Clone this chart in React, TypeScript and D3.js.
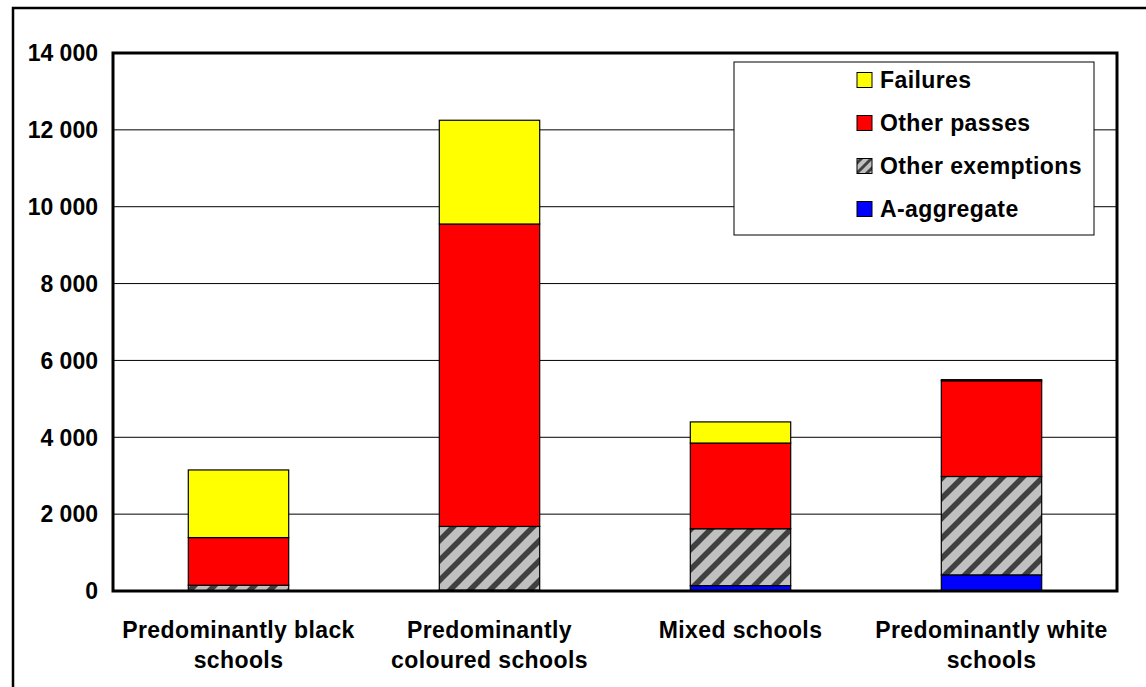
import React from "react";
import * as d3 from "d3";

// School categories (two-line labels)
const categories = [
  "Predominantly black schools",
  "Predominantly coloured schools",
  "Mixed schools",
  "Predominantly white schools",
];
const categoryLines = [
  ["Predominantly black", "schools"],
  ["Predominantly", "coloured schools"],
  ["Mixed schools"],
  ["Predominantly white", "schools"],
];

// Series values, stacked bottom to top
const aAggregate = [10, 20, 140, 420];
const otherExemptions = [140, 1660, 1480, 2560];
const otherPasses = [1240, 7870, 2230, 2490];
const failures = [1760, 2700, 550, 30];

const seriesNames = ["A-aggregate", "Other exemptions", "Other passes", "Failures"];
const yTicks = [0, 2000, 4000, 6000, 8000, 10000, 12000, 14000];

const W = 1146;
const H = 687;
const plot = { left: 113, right: 1117, top: 53, bottom: 591 };
const FONT = "'Liberation Sans', Arial, sans-serif";
const FS = 23;
const LS = 0.4;

const fills: Record<string, string> = {
  "A-aggregate": "#0000ff",
  "Other exemptions": "url(#hatch)",
  "Other passes": "#ff0000",
  Failures: "#ffff00",
};

export default function App() {
  const rows = categories.map((c, i) => ({
    category: c,
    "A-aggregate": aAggregate[i],
    "Other exemptions": otherExemptions[i],
    "Other passes": otherPasses[i],
    Failures: failures[i],
  }));
  const stack = d3.stack<any>().keys(seriesNames)(rows);

  const x = d3.scaleBand<string>().domain(categories).range([plot.left, plot.right]).padding(0);
  const y = d3.scaleLinear().domain([0, 14000]).range([plot.bottom, plot.top]);
  const barW = x.bandwidth() * 0.4;

  const fmt = d3
    .formatLocale({ thousands: " ", grouping: [3], decimal: ".", currency: ["", ""] })
    .format(",");

  const legendOrder = ["Failures", "Other passes", "Other exemptions", "A-aggregate"];
  const legend = { x: 734, y: 62, w: 360, h: 173 };

  return (
    <svg
      width={W}
      height={H}
      style={{ position: "absolute", left: 0, top: 0, background: "#fff" }}
      fontFamily={FONT}
    >
      <defs>
        <pattern id="hatch" patternUnits="userSpaceOnUse" width={20} height={20}>
          <rect width={20} height={20} fill="#c0c0c0" />
          <path
            d="M-5,5 L5,-5 M0,20 L20,0 M15,25 L25,15"
            stroke="#404040"
            strokeWidth={5.5}
          />
        </pattern>
        <pattern id="hatchSmall" patternUnits="userSpaceOnUse" width={10} height={10}>
          <rect width={10} height={10} fill="#c0c0c0" />
          <path d="M-3,3 L3,-3 M0,10 L10,0 M7,13 L13,7" stroke="#404040" strokeWidth={3} />
        </pattern>
      </defs>

      {/* outer frame */}
      <rect x={13} y={8} width={1200} height={720} fill="none" stroke="#000" strokeWidth={2.5} />

      {/* gridlines */}
      {yTicks.slice(1, -1).map((t) => (
        <line key={t} x1={plot.left} x2={plot.right} y1={y(t)} y2={y(t)} stroke="#000" strokeWidth={1} />
      ))}

      {/* bars */}
      {stack.map((s) =>
        s.map((d, i) => {
          const cx = (x(categories[i]) as number) + x.bandwidth() / 2;
          return (
            <rect
              key={s.key + i}
              x={cx - barW / 2}
              y={y(d[1])}
              width={barW}
              height={Math.max(0, y(d[0]) - y(d[1]))}
              fill={fills[s.key]}
              stroke="#000"
              strokeWidth={1.2}
            />
          );
        })
      )}

      {/* plot frame */}
      <rect
        x={plot.left}
        y={plot.top}
        width={plot.right - plot.left}
        height={plot.bottom - plot.top}
        fill="none"
        stroke="#000"
        strokeWidth={3}
      />

      {/* y tick labels */}
      {yTicks.map((t) => (
        <text
          key={t}
          x={98}
          y={y(t)}
          dy="0.36em"
          textAnchor="end"
          fontSize={FS}
          fontWeight="bold"
        >
          {fmt(t)}
        </text>
      ))}

      {/* x category labels */}
      {categoryLines.map((lines, i) => {
        const cx = (x(categories[i]) as number) + x.bandwidth() / 2;
        return (
          <text key={i} textAnchor="middle" fontSize={FS} fontWeight="bold" letterSpacing={LS}>
            {lines.map((l, j) => (
              <tspan key={j} x={cx} y={638 + j * 30}>
                {l}
              </tspan>
            ))}
          </text>
        );
      })}

      {/* legend */}
      <rect x={legend.x} y={legend.y} width={legend.w} height={legend.h} fill="#fff" stroke="#000" strokeWidth={1} />
      {legendOrder.map((k, i) => {
        const cy = 80 + i * 43;
        return (
          <g key={k}>
            <rect
              x={857}
              y={cy - 7.5}
              width={15}
              height={15}
              fill={k === "Other exemptions" ? "url(#hatchSmall)" : fills[k]}
              stroke="#000"
              strokeWidth={1}
            />
            <text x={880} y={cy} dy="0.33em" fontSize={FS} fontWeight="bold" letterSpacing={LS}>
              {k}
            </text>
          </g>
        );
      })}
    </svg>
  );
}
